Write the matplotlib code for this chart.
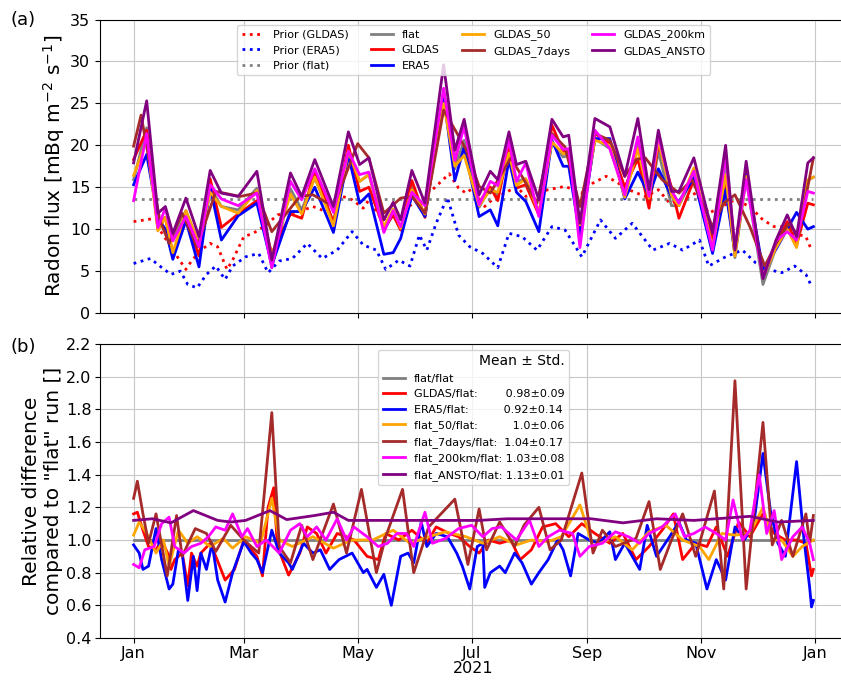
import numpy as np
import matplotlib
matplotlib.use("Agg")
from matplotlib import pyplot as plt
import matplotlib.dates as mdates

# ---- top panel: radon flux [mBq m-2 s-1] ----
days_top = [0, 7, 13, 17, 21, 28, 35, 41, 47, 56, 66, 74, 84, 90, 97, 107, 115, 121, 126, 134,
            139, 143, 149, 156, 166, 172, 177, 185, 191, 195, 201, 205, 210, 217, 224, 230, 233,
            239, 247, 255, 263, 270, 276, 281, 288, 292, 300, 310, 317, 322, 328, 337, 344, 350,
            355, 361, 364]
flux_flat = [15.9, 22.1, 10.6, 11.4, 8.6, 12.2, 8.1, 15.0, 12.7, 12.3, 14.9, 5.4, 14.8, 12.3, 16.1,
             10.9, 19.3, 15.7, 16.5, 9.9, 11.7, 9.9, 15.0, 11.6, 26.0, 17.2, 20.6, 12.6, 15.0, 14.1,
             19.1, 15.7, 16.0, 11.9, 20.4, 18.6, 18.8, 9.3, 20.8, 19.6, 14.4, 20.5, 13.0, 19.3, 12.8,
             12.8, 16.4, 8.4, 17.7, 6.6, 16.0, 3.4, 7.8, 10.4, 8.1, 15.8, 16.2]
flux_gldas = [18.3, 21.8, 10.0, 11.4, 7.1, 11.2, 6.8, 16.0, 10.2, 11.8, 13.4, 7.1, 11.8, 11.3, 17.0,
              10.7, 20.0, 14.5, 15.0, 10.1, 11.7, 9.9, 15.8, 11.4, 26.3, 18.1, 22.6, 13.2, 15.0, 13.4,
              20.0, 14.9, 15.3, 11.7, 22.4, 19.3, 19.2, 9.8, 21.4, 20.2, 15.0, 18.4, 12.5, 20.3, 15.0,
              11.3, 15.9, 8.8, 15.5, 7.3, 16.9, 4.3, 8.1, 10.9, 8.1, 13.1, 12.9]
flux_era5 = [15.3, 18.9, 11.3, 10.0, 6.4, 11.0, 5.5, 15.0, 8.7, 11.6, 13.1, 5.7, 12.1, 12.1, 15.0,
             9.6, 18.8, 13.1, 14.2, 7.0, 7.2, 8.9, 14.0, 11.5, 25.8, 15.8, 19.8, 11.5, 12.3, 10.4,
             18.3, 14.4, 13.3, 9.7, 20.6, 17.5, 17.5, 9.2, 20.8, 20.8, 13.6, 16.8, 14.0, 17.2, 13.9,
             13.3, 16.1, 7.1, 14.7, 7.1, 16.5, 5.2, 7.6, 10.0, 12.0, 10.0, 10.3]
flux_50 = [16.4, 20.6, 9.8, 11.4, 7.2, 12.2, 8.3, 14.4, 12.7, 11.9, 14.6, 6.8, 14.2, 11.8, 16.2,
           10.4, 19.3, 15.7, 16.5, 10.3, 12.4, 10.1, 14.7, 11.8, 25.0, 17.5, 18.8, 12.8, 14.7, 14.4,
           19.1, 15.2, 16.0, 11.9, 20.4, 19.0, 19.0, 10.5, 20.6, 20.0, 13.8, 19.6, 13.7, 20.6, 14.0,
           12.8, 17.3, 7.8, 16.5, 6.8, 16.3, 4.3, 7.8, 10.0, 7.8, 15.9, 16.2]
flux_200km = [13.4, 21.4, 10.2, 12.5, 8.6, 11.5, 7.9, 15.3, 13.6, 12.8, 14.3, 5.4, 15.7, 13.5, 17.2,
              12.0, 19.3, 16.5, 16.8, 9.6, 12.2, 10.3, 14.4, 12.8, 26.8, 18.2, 22.2, 12.9, 15.7, 15.2,
              20.6, 15.7, 17.9, 11.5, 21.2, 19.5, 19.6, 7.8, 21.8, 19.6, 14.1, 21.0, 13.9, 21.2, 14.6,
              13.1, 16.9, 7.5, 18.8, 7.9, 15.9, 4.2, 8.6, 9.7, 8.7, 14.5, 14.3]
flux_ansto = [17.9, 25.3, 11.9, 12.7, 9.5, 13.7, 9.1, 17.0, 14.3, 13.9, 16.9, 6.3, 16.7, 13.9, 18.3,
              12.7, 21.6, 17.7, 18.5, 11.1, 13.2, 11.1, 17.0, 13.1, 29.6, 19.4, 23.1, 14.1, 16.9, 15.9,
              21.6, 17.7, 18.1, 13.5, 23.1, 21.0, 21.2, 10.7, 23.2, 22.2, 16.3, 23.2, 14.7, 21.8, 14.5,
              14.5, 18.5, 9.5, 20.0, 7.5, 18.1, 4.1, 8.7, 11.7, 9.1, 17.9, 18.5]

days_7d = [0, 4, 14, 19, 26, 34, 44, 57, 66, 74, 89, 96, 107, 120, 126, 134, 143, 149, 156, 166, 173,
           178, 185, 191, 202, 209, 216, 224, 231, 239, 247, 255, 263, 269, 274, 283, 292, 299, 310,
           316, 322, 330, 338, 345, 351, 356, 360, 364]
flux_7d = [19.9, 23.6, 11.1, 8.3, 11.9, 7.9, 14.5, 13.9, 14.3, 9.7, 13.9, 14.1, 12.7, 20.2, 18.5, 11.9,
           13.7, 13.9, 11.9, 24.2, 21.5, 19.5, 15.1, 14.3, 18.5, 15.9, 13.1, 21.4, 19.8, 12.7, 21.4,
           20.6, 16.3, 18.3, 18.5, 15.9, 14.3, 15.9, 10.3, 13.1, 14.1, 10.3, 5.6, 8.7, 10.7, 9.1, 13.9,
           18.5]

days_pg = [0, 12, 14, 20, 24, 28, 31, 36, 41, 45, 50, 53, 59, 64, 71, 77, 82, 89, 96, 103, 112, 117,
           123, 126, 133, 141, 147, 154, 160, 169, 174, 178, 183, 188, 194, 199, 205, 210, 215, 222,
           231, 240, 246, 253, 258, 265, 274, 281, 287, 294, 301, 308, 315, 322, 330, 337, 343, 349,
           354, 360, 363]
prior_gldas = [10.9, 11.3, 9.9, 7.9, 6.5, 5.2, 6.2, 7.5, 8.3, 7.9, 5.2, 6.3, 9.1, 9.5, 10.5, 11.7, 11.9,
               12.1, 12.7, 12.1, 13.9, 13.5, 12.5, 13.5, 11.1, 11.9, 12.7, 13.5, 14.7, 16.6, 14.9, 14.3,
               15.1, 12.7, 13.9, 14.3, 15.1, 13.9, 14.3, 14.7, 15.1, 14.3, 15.5, 16.3, 15.7, 14.7, 13.9,
               14.7, 13.1, 13.5, 14.3, 11.9, 12.7, 13.5, 12.7, 11.1, 10.3, 10.3, 9.5, 9.1, 7.5]
days_pe = [0, 9, 14, 20, 25, 29, 34, 39, 44, 49, 53, 60, 67, 72, 78, 85, 93, 101, 109, 117, 123, 130,
           135, 142, 148, 153, 157, 162, 168, 174, 180, 187, 195, 201, 208, 216, 224, 231, 240, 250,
           258, 267, 278, 287, 294, 303, 308, 317, 326, 333, 340, 347, 354, 360, 363]
prior_era5 = [5.9, 6.5, 5.6, 4.6, 5.0, 3.4, 3.0, 4.6, 5.6, 4.0, 5.6, 6.7, 7.1, 4.8, 6.2, 6.5, 8.3, 6.5,
              7.5, 9.7, 8.1, 7.5, 5.2, 6.3, 5.6, 9.3, 7.5, 10.7, 13.8, 9.3, 7.9, 7.1, 5.4, 9.5, 9.1, 7.5,
              10.3, 9.9, 6.7, 11.1, 8.9, 10.7, 7.5, 8.3, 7.5, 8.7, 5.6, 6.7, 7.5, 6.0, 5.2, 4.8, 5.6,
              4.6, 3.2]
days_pf = [0, 364]
prior_flat = [13.6, 13.6]

# ---- bottom panel: ratio to the "flat" run ----
days_rf = [0, 364]
ratio_flat = [1.0, 1.0]
days_rr = [0, 2, 5, 8, 12, 15, 19, 20, 22, 26, 29, 31, 34, 36, 41, 44, 49, 54, 59, 66, 69, 72, 75, 77,
           83, 89, 93, 98, 103, 109, 114, 118, 125, 131, 135, 142, 149, 157, 162, 169, 174, 180, 185,
           190, 196, 202, 207, 213, 219, 226, 233, 240, 247, 255, 262, 269, 276, 283, 289, 294, 301,
           307, 312, 318, 324, 330, 337, 343, 349, 355, 360, 363, 364]
ratio_gldas = [1.16, 1.17, 1.06, 0.96, 0.94, 1.0, 0.90, 0.82, 0.88, 0.92, 0.72, 0.92, 0.84, 0.92, 0.98,
               0.90, 0.755, 0.82, 1.0, 0.90, 0.78, 1.20, 1.32, 0.96, 0.785, 0.92, 1.08, 1.04, 0.92,
               1.04, 1.02, 1.0, 0.90, 0.88, 1.04, 1.0, 1.06, 0.98, 1.08, 1.04, 1.02, 0.96, 0.92, 1.0,
               0.98, 1.0, 0.88, 0.94, 1.08, 1.10, 1.02, 1.10, 1.04, 0.98, 1.04, 0.88, 0.96, 1.06, 1.16,
               0.88, 0.98, 0.96, 1.08, 0.90, 1.11, 1.02, 1.16, 1.04, 1.0, 1.0, 0.98, 0.78, 0.82]
days_rb = [0, 3, 5, 8, 12, 15, 19, 21, 24, 26, 29, 32, 34, 36, 39, 42, 45, 49, 53, 59, 63, 66, 69, 74,
           78, 83, 85, 91, 96, 100, 105, 110, 117, 123, 125, 130, 134, 138, 143, 147, 150, 154, 157,
           162, 168, 173, 176, 180, 184, 187, 188, 191, 196, 199, 204, 208, 213, 217, 222, 227, 230,
           234, 238, 244, 249, 255, 258, 263, 271, 275, 280, 287, 292, 296, 301, 307, 312, 317, 322,
           327, 332, 337, 341, 345, 349, 355, 359, 362, 363, 364]
ratio_era5 = [0.97, 0.92, 0.82, 0.84, 1.07, 0.88, 0.70, 0.73, 0.94, 0.92, 0.63, 0.90, 0.69, 0.92, 0.82,
              0.98, 0.755, 0.62, 0.80, 0.99, 0.92, 0.88, 0.80, 1.06, 0.92, 0.86, 0.82, 0.98, 0.92,
              0.94, 0.82, 0.88, 0.92, 0.80, 0.82, 0.71, 0.79, 0.60, 0.90, 0.92, 0.86, 1.11, 0.96, 1.04,
              1.02, 0.92, 0.84, 0.70, 0.96, 0.98, 0.71, 0.80, 0.84, 0.80, 0.92, 0.86, 0.73, 0.80, 0.88,
              1.0, 0.94, 0.78, 1.04, 1.0, 0.98, 1.05, 0.88, 0.98, 0.82, 1.09, 0.90, 1.02, 1.11, 1.0,
              0.98, 0.70, 0.88, 0.755, 1.08, 1.0, 1.09, 1.53, 1.18, 0.98, 0.90, 1.48, 1.0, 0.71, 0.59,
              0.63]
days_ro = [0, 3, 7, 12, 16, 19, 24, 29, 34, 41, 48, 53, 60, 68, 74, 78, 85, 96, 107, 117, 128, 139, 148,
           158, 167, 178, 187, 196, 205, 213, 222, 229, 239, 246, 258, 267, 276, 285, 294, 303, 308,
           315, 322, 330, 337, 342, 347, 353, 358, 364]
ratio_50 = [1.03, 1.11, 1.04, 0.92, 1.0, 0.84, 1.06, 0.98, 1.02, 0.96, 1.01, 0.95, 1.02, 0.98, 1.255,
            1.0, 0.96, 1.02, 0.95, 1.0, 1.0, 1.06, 0.98, 1.02, 1.05, 1.02, 0.98, 1.02, 0.97, 1.0, 0.99,
            1.02, 1.215, 0.96, 1.02, 0.94, 1.05, 1.09, 1.0, 0.96, 0.88, 1.04, 1.03, 1.04, 1.20, 1.0,
            1.0, 0.90, 0.96, 1.0]
days_rk = [0, 2, 5, 8, 12, 18, 23, 26, 33, 39, 44, 52, 59, 67, 74, 78, 84, 90, 96, 107, 114, 122, 130,
           135, 144, 150, 158, 172, 179, 185, 189, 196, 204, 209, 217, 223, 229, 240, 246, 251, 258,
           269, 276, 282, 288, 294, 301, 311, 316, 322, 328, 337, 342, 347, 353, 360, 362, 364]
ratio_7d = [1.255, 1.36, 1.16, 0.98, 1.16, 0.78, 1.15, 0.90, 1.07, 1.04, 0.93, 1.09, 1.0, 0.92, 1.78,
            0.96, 0.86, 1.09, 0.88, 1.22, 0.92, 1.31, 0.80, 1.02, 1.31, 0.80, 1.08, 1.25, 0.85, 1.19,
            0.94, 1.11, 0.96, 1.09, 1.20, 0.94, 1.0, 1.41, 0.92, 1.06, 0.96, 1.01, 1.235, 0.82, 1.0,
            1.16, 0.90, 1.30, 0.70, 1.975, 0.70, 1.72, 0.97, 1.12, 0.90, 1.16, 0.98, 1.15]
days_rm = [0, 3, 6, 11, 15, 19, 22, 27, 31, 36, 40, 44, 49, 53, 58, 61, 66, 71, 78, 84, 89, 93, 98,
           103, 109, 114, 118, 125, 131, 136, 141, 146, 150, 156, 160, 167, 174, 181, 187, 192, 197,
           205, 212, 217, 222, 228, 235, 239, 244, 251, 258, 265, 271, 276, 283, 290, 295, 300, 306,
           312, 317, 321, 326, 330, 335, 339, 343, 347, 353, 358, 362, 364]
ratio_200km = [0.85, 0.83, 0.94, 0.96, 1.10, 1.14, 0.96, 0.92, 0.96, 0.98, 1.02, 1.08, 1.06, 1.16, 1.02,
               1.07, 0.96, 1.0, 0.92, 1.06, 1.10, 1.02, 1.08, 1.0, 1.13, 1.0, 1.08, 1.02, 0.96, 0.98,
               1.04, 1.04, 0.96, 1.17, 0.98, 1.01, 1.07, 1.09, 1.02, 1.07, 1.08, 1.0, 1.12, 0.96, 1.02,
               1.06, 1.04, 0.90, 0.96, 0.98, 1.05, 1.02, 0.98, 1.04, 1.08, 1.16, 1.02, 1.04, 1.08, 1.04,
               1.0, 1.245, 1.0, 1.06, 1.40, 1.04, 1.18, 0.88, 1.02, 1.08, 0.98, 0.88]
days_rp = [0, 10, 20, 32, 45, 52, 60, 73, 82, 97, 107, 115, 150, 185, 200, 245, 262, 280, 300, 330,
           345, 364]
ratio_ansto = [1.12, 1.13, 1.105, 1.18, 1.12, 1.11, 1.12, 1.18, 1.125, 1.15, 1.17, 1.12, 1.12, 1.12,
               1.13, 1.13, 1.105, 1.13, 1.12, 1.145, 1.11, 1.12]

stats = {"GLDAS/flat:": "0.98±0.09", "ERA5/flat:": "0.92±0.14", "flat_50/flat:": "1.0±0.06",
         "flat_7days/flat:": "1.04±0.17", "flat_200km/flat:": "1.03±0.08", "flat_ANSTO/flat:": "1.13±0.01"}
pad = {"GLDAS/flat:": 8, "ERA5/flat:": 10, "flat_50/flat:": 10, "flat_7days/flat:": 2,
       "flat_200km/flat:": 1, "flat_ANSTO/flat:": 1}

start = np.datetime64("2021-01-01")

def dates(days):
	return start + np.array(days).astype("timedelta64[D]")

def lab(name):
	return name + " " * pad[name] + stats[name]


fig = plt.figure(figsize = (8.41, 6.81), dpi = 100)
ax1 = fig.add_axes([100 / 841, 368 / 681, 747 / 841, 293.5 / 681])
ax2 = fig.add_axes([100 / 841, 43 / 681, 747 / 841, 294 / 681], sharex = ax1)

lw = 2
ax1.plot(dates(days_pg), prior_gldas, ":", color = "red", lw = lw, label = "Prior (GLDAS)")
ax1.plot(dates(days_pe), prior_era5, ":", color = "blue", lw = lw, label = "Prior (ERA5)")
ax1.plot(dates(days_pf), prior_flat, ":", color = "grey", lw = lw, label = "Prior (flat)")
ax1.plot(dates(days_top), flux_flat, color = "grey", lw = lw, label = "flat")
ax1.plot(dates(days_top), flux_gldas, color = "red", lw = lw, label = "GLDAS")
ax1.plot(dates(days_top), flux_era5, color = "blue", lw = lw, label = "ERA5")
ax1.plot(dates(days_top), flux_50, color = "orange", lw = lw, label = "GLDAS_50")
ax1.plot(dates(days_7d), flux_7d, color = "brown", lw = lw, label = "GLDAS_7days")
ax1.plot(dates(days_top), flux_200km, color = "magenta", lw = lw, label = "GLDAS_200km")
ax1.plot(dates(days_top), flux_ansto, color = "purple", lw = lw, label = "GLDAS_ANSTO")

ax1.set_ylim(0, 35)
ax1.set_yticks(np.arange(0, 36, 5))
ax1.set_ylabel("Radon flux [mBq m$^{-2}$ s$^{-1}$]", fontsize = 14.5, labelpad = 2)
ax1.grid(True, color = "#c8c8c8")
ax1.tick_params(labelsize = 11.5, labelbottom = False)
ax1.legend(loc = "upper center", ncol = 4, fontsize = 8)
fig.text(10 / 841, 1 - 20 / 681, "(a)", fontsize = 13, va = "center")

ax2.plot(dates(days_rf), ratio_flat, color = "grey", lw = lw, label = "flat/flat")
ax2.plot(dates(days_rr), ratio_gldas, color = "red", lw = lw, label = lab("GLDAS/flat:"))
ax2.plot(dates(days_rb), ratio_era5, color = "blue", lw = lw, label = lab("ERA5/flat:"))
ax2.plot(dates(days_ro), ratio_50, color = "orange", lw = lw, label = lab("flat_50/flat:"))
ax2.plot(dates(days_rk), ratio_7d, color = "brown", lw = lw, label = lab("flat_7days/flat:"))
ax2.plot(dates(days_rm), ratio_200km, color = "magenta", lw = lw, label = lab("flat_200km/flat:"))
ax2.plot(dates(days_rp), ratio_ansto, color = "purple", lw = lw, label = lab("flat_ANSTO/flat:"))

ax2.set_ylim(0.4, 2.2)
ax2.set_yticks(np.arange(0.4, 2.21, 0.2))
ax2.yaxis.set_major_formatter(matplotlib.ticker.FormatStrFormatter("%.1f"))
ax2.set_ylabel('Relative difference\ncompared to "flat" run []', fontsize = 14.5, labelpad = 2)
ax2.set_xlabel("2021", fontsize = 11.5, labelpad = 0)
ax2.grid(True, color = "#c8c8c8")
ax2.tick_params(labelsize = 11.5, pad = 2.5)
ax2.legend(loc = "upper center", fontsize = 8, title = "Mean ± Std.", title_fontsize = 10,
           alignment = "right")
fig.text(10 / 841, 1 - 347 / 681, "(b)", fontsize = 13, va = "center")

ax2.xaxis.set_major_locator(mdates.MonthLocator(bymonth = [1, 3, 5, 7, 9, 11]))
ax2.xaxis.set_major_formatter(mdates.DateFormatter("%b"))
ax2.set_xlim(start - np.timedelta64(18, "D"), start + np.timedelta64(382, "D"))

fig.savefig("out.png", dpi = 100)
